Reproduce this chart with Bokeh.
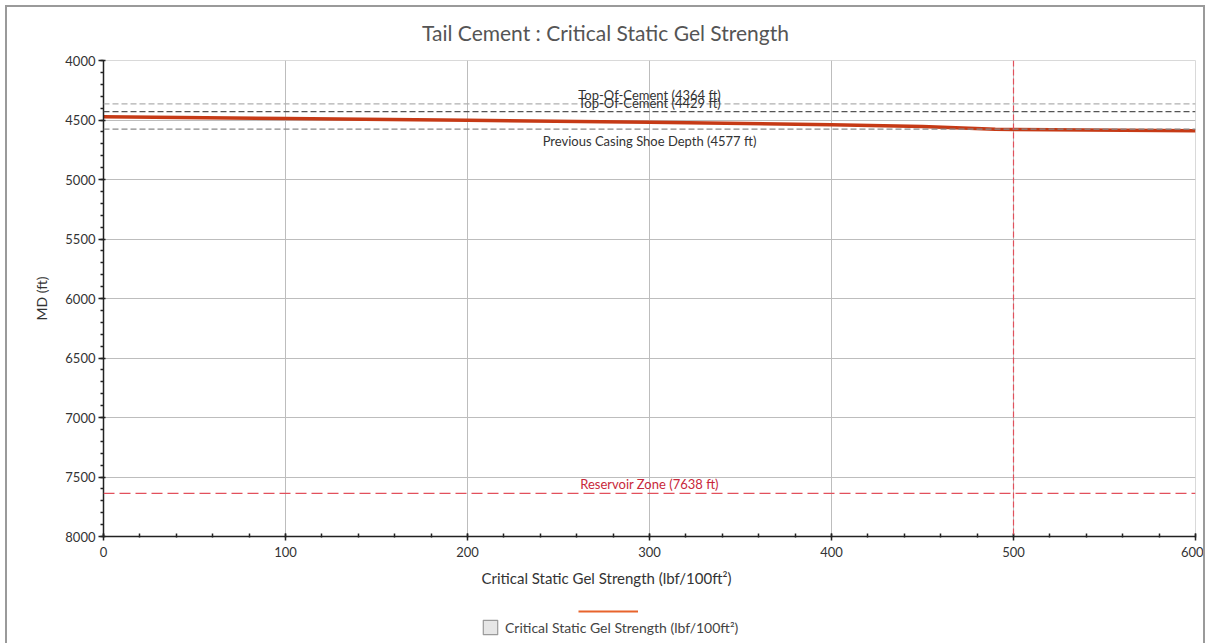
from bokeh.plotting import figure
from bokeh.layouts import column
from bokeh.models import (Range1d, Span, Label, Legend, LegendItem, FixedTicker)
from bokeh.embed import file_html
from bokeh.resources import INLINE

# ---- data ----
gel_strength = [0, 100, 200, 300, 400, 450, 490, 500, 600]
md_ft = [4472, 4488, 4503, 4518, 4540, 4555, 4578, 4580, 4590]

ref_labels = ["Top-Of-Cement (4364 ft)", "Top-Of-Cement (4429 ft)",
              "Previous Casing Shoe Depth (4577 ft)", "Reservoir Zone (7638 ft)"]
ref_depths = [4364, 4429, 4577, 7638]
critical_gel = 500
x_ticks = [0, 100, 200, 300, 400, 500, 600]
y_ticks = [4000, 4500, 5000, 5500, 6000, 6500, 7000, 7500, 8000]

FONT = "Lato"
W = 1196


def strip(height):
    f = figure(width=W, height=height, output_backend="svg", toolbar_location=None,
               x_axis_type=None, y_axis_type=None, x_range=Range1d(0, 1), y_range=Range1d(0, 1),
               min_border=0)
    f.outline_line_color = None
    f.grid.visible = False
    return f


# ---- title strip ----
tf = strip(40)
tf.add_layout(Label(x=502, y=15, x_units="screen", y_units="screen",
                    text="Tail Cement : Critical Static Gel Strength",
                    text_align="center", text_baseline="middle",
                    text_font=FONT, text_font_size="21px", text_color="#555555"))

# ---- main chart ----
p = figure(width=W, height=518, output_backend="svg", toolbar_location=None,
           x_range=Range1d(0, 600), y_range=Range1d(8000, 4000),
           min_border_left=96, min_border_right=8, min_border_top=13, min_border_bottom=29)
p.outline_line_color = "#d9d9d9"

p.xaxis.ticker = FixedTicker(ticks=x_ticks, minor_ticks=list(range(0, 601, 20)))
p.yaxis.ticker = FixedTicker(ticks=y_ticks, minor_ticks=list(range(4000, 8001, 100)))
for ax in (p.xaxis[0], p.yaxis[0]):
    ax.axis_line_color = "#222222"
    ax.axis_line_width = 1.5
    ax.major_tick_line_color = "#222222"
    ax.minor_tick_line_color = "#222222"
    ax.major_tick_line_width = 1.5
    ax.minor_tick_line_width = 1.5
    ax.major_label_text_font = FONT
    ax.major_label_text_font_size = "13px"
    ax.major_label_text_color = "#333333"
    ax.axis_label_text_font = FONT
    ax.axis_label_text_font_style = "normal"
    ax.axis_label_text_color = "#333333"
p.xaxis.major_tick_in = 3
p.xaxis.major_tick_out = 4
p.xaxis.minor_tick_in = 3
p.xaxis.minor_tick_out = 1
p.xaxis.major_label_standoff = 6
p.yaxis.major_tick_in = 2
p.yaxis.major_tick_out = 5
p.yaxis.minor_tick_in = 0
p.yaxis.minor_tick_out = 3
p.yaxis.major_label_standoff = 3
p.yaxis.axis_label = "MD (ft)"
p.yaxis.axis_label_text_font_size = "14px"
p.yaxis.axis_label_standoff = 12

p.xgrid.grid_line_color = "#bdbdbd"
p.ygrid.grid_line_color = "#bdbdbd"

ref_colors = ["#b0b0b0", "#555555", "#8a8a8a", "#e2505c"]
ref_dash = ["6 3", "6 3", "6 3", "11 5"]
ref_text_colors = ["#333333", "#333333", "#333333", "#c8283a"]
ref_baseline = ["bottom", "bottom", "top", "bottom"]
ref_offset = [1, 1, -4, 1]
for d, lab, c, dash, tc, bl, off in zip(ref_depths, ref_labels, ref_colors, ref_dash,
                                         ref_text_colors, ref_baseline, ref_offset):
    p.add_layout(Span(location=d, dimension="width", line_color=c, line_dash=dash, line_width=1.3))
    p.add_layout(Label(x=300, y=d, text=lab, text_align="center", text_baseline=bl,
                       y_offset=off, text_font=FONT, text_font_size="13px", text_color=tc))

p.add_layout(Span(location=critical_gel, dimension="height", line_color="#e2505c",
                  line_dash="6 3", line_width=1.2))

curve = p.line(gel_strength, md_ft, line_color="#c63a16", line_width=3.5)

# ---- x-axis title + legend strip ----
lf = strip(78)
lf.add_layout(Label(x=503, y=66, x_units="screen", y_units="screen",
                    text="Critical Static Gel Strength (lbf/100ft\u00b2)",
                    text_align="center", text_baseline="middle",
                    text_font=FONT, text_font_size="15px", text_color="#333333"))
# legend helper renderers reuse the series; they fall outside this strip's ranges
leg_line = lf.line(gel_strength, md_ft, line_color="#e8642c", line_width=2)
leg_box = lf.quad(left=gel_strength, right=gel_strength, top=md_ft, bottom=md_ft,
                  fill_color="#e6e6e6", line_color="#9a9a9a", line_width=1.2)
legend1 = Legend(items=[LegendItem(label=" ", renderers=[leg_line])],
                 location=(475, 29), glyph_width=60, glyph_height=6, label_height=6,
                 label_standoff=0, padding=0, margin=0, border_line_alpha=0,
                 background_fill_alpha=0, label_text_font_size="6px")
legend2 = Legend(items=[LegendItem(label="Critical Static Gel Strength (lbf/100ft\u00b2)",
                                   renderers=[leg_box])],
                 location=(378, 7), glyph_width=18, glyph_height=18, label_height=18,
                 label_standoff=6, padding=0, margin=0, border_line_alpha=0,
                 background_fill_alpha=0, label_text_font=FONT,
                 label_text_font_size="14px", label_text_color="#444444")
lf.add_layout(legend1, "center")
lf.add_layout(legend2, "center")

layout = column(tf, p, lf, spacing=0,
                styles={"border": "2px solid #9a9a9a", "margin-left": "5px", "margin-top": "5px"})

open("out.html", "w").write(file_html(layout, INLINE))
